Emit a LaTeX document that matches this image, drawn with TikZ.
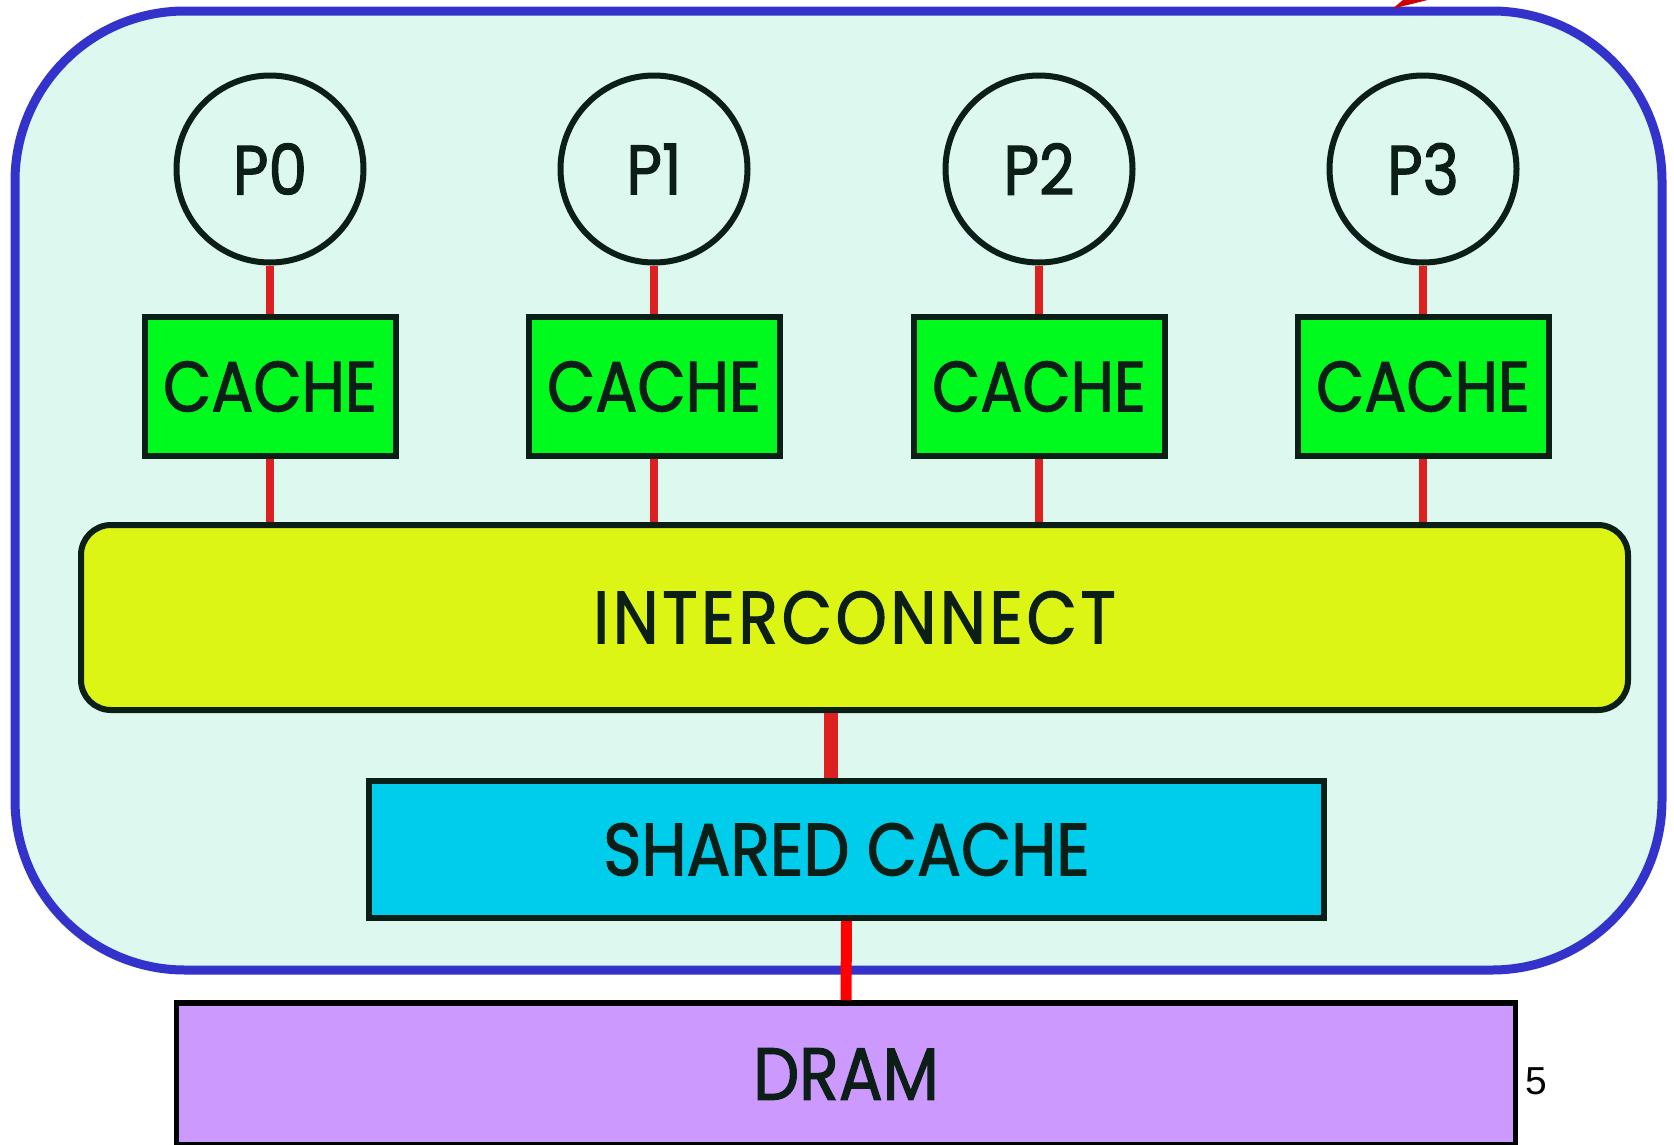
\documentclass[tikz,border=0pt]{standalone}
\usepackage{fontspec}
\setmainfont{Poppins}
\newfontfamily\sketchfont[FakeStretch=0.88,FakeBold=1.5]{Poppins}
\newfontfamily\sketchwide[FakeStretch=0.88,FakeBold=1.5,LetterSpace=5]{Poppins}
\newfontfamily\pagefont{Liberation Sans}
\usetikzlibrary{arrows.meta}

\definecolor{chipfill}{HTML}{DCF8EF}
\definecolor{chipline}{HTML}{3333CC}
\definecolor{boxline}{HTML}{0B1F17}
\definecolor{cachegreen}{HTML}{00FA1E}
\definecolor{busyellow}{HTML}{DDF514}
\definecolor{sharedcyan}{HTML}{00CCEC}
\definecolor{dramviolet}{HTML}{CC99FF}
\definecolor{linkred}{HTML}{DD2020}

\tikzset{
  label text/.style={text=boxline,font=\sketchfont\fontsize{74}{74}\selectfont},
  proc/.style={circle,draw=boxline,line width=6pt,minimum size=187pt,inner sep=0pt,
    text=boxline,font=\sketchfont\fontsize{70}{70}\selectfont},
  cachebox/.style={rectangle,draw=boxline,line width=6pt,fill=cachegreen,
    minimum width=251pt,minimum height=139pt,inner sep=0pt,label text,
    font=\sketchfont\fontsize{71}{71}\selectfont},
  link/.style={draw=linkred,line width=8pt}
}

\begin{document}
\begin{tikzpicture}[x=1pt,y=-1pt]
\useasboundingbox[fill=white] (0,0) rectangle (1674,1144);

% chip outline
\draw[draw=chipline,fill=chipfill,line width=9pt,rounded corners=170pt]
  (15,11) rectangle (1662,970);

% processors and their caches
\foreach \i/\x in {0/270,1/654,2/1039,3/1423}{
  \node[proc] (p\i) at (\x,169) {P\i};
  \node[cachebox] (c\i) at (\x,386.5) {CACHE};
}

\node[rectangle,draw=boxline,line width=6pt,fill=busyellow,rounded corners=30pt,
  minimum width=1547pt,minimum height=185pt,inner sep=0pt,label text,
  font=\sketchwide\fontsize{74}{74}\selectfont]
  (ic) at (854.5,617.5) {INTERCONNECT};

\node[rectangle,draw=boxline,line width=6pt,fill=sharedcyan,
  minimum width=955pt,minimum height=137pt,inner sep=0pt,label text]
  (llc) at (846.5,849.5) {SHARED CACHE};

\node[rectangle,draw=black,line width=5.5pt,fill=dramviolet,
  minimum width=1339pt,minimum height=142pt,inner sep=0pt,label text]
  (dram) at (846,1074) {DRAM};

% links
\foreach \i in {0,...,3}{
  \draw[link] (p\i.south) -- (c\i.north);
  \draw[link] (c\i.south) -- (c\i.south |- ic.north);
}
\coordinate (busx) at (831,0);
\draw[link,line width=14pt] (ic.south -| busx) -- (llc.north -| busx);
\draw[link,draw=red,line width=11pt] (llc.south) -- (dram.north);

% incoming arrow, cut by the page edge
\coordinate (arrtail) at (1500,-46);
\coordinate (arrtip) at (1392,9);
\draw[draw=red!80!black,line width=4pt,-{Triangle[length=42pt,width=18pt]}]
  (arrtail) -- (arrtip);

\node[font=\pagefont\fontsize{39}{39}\selectfont] (pagenum) at (1536,1081) {5};
\end{tikzpicture}
\end{document}
